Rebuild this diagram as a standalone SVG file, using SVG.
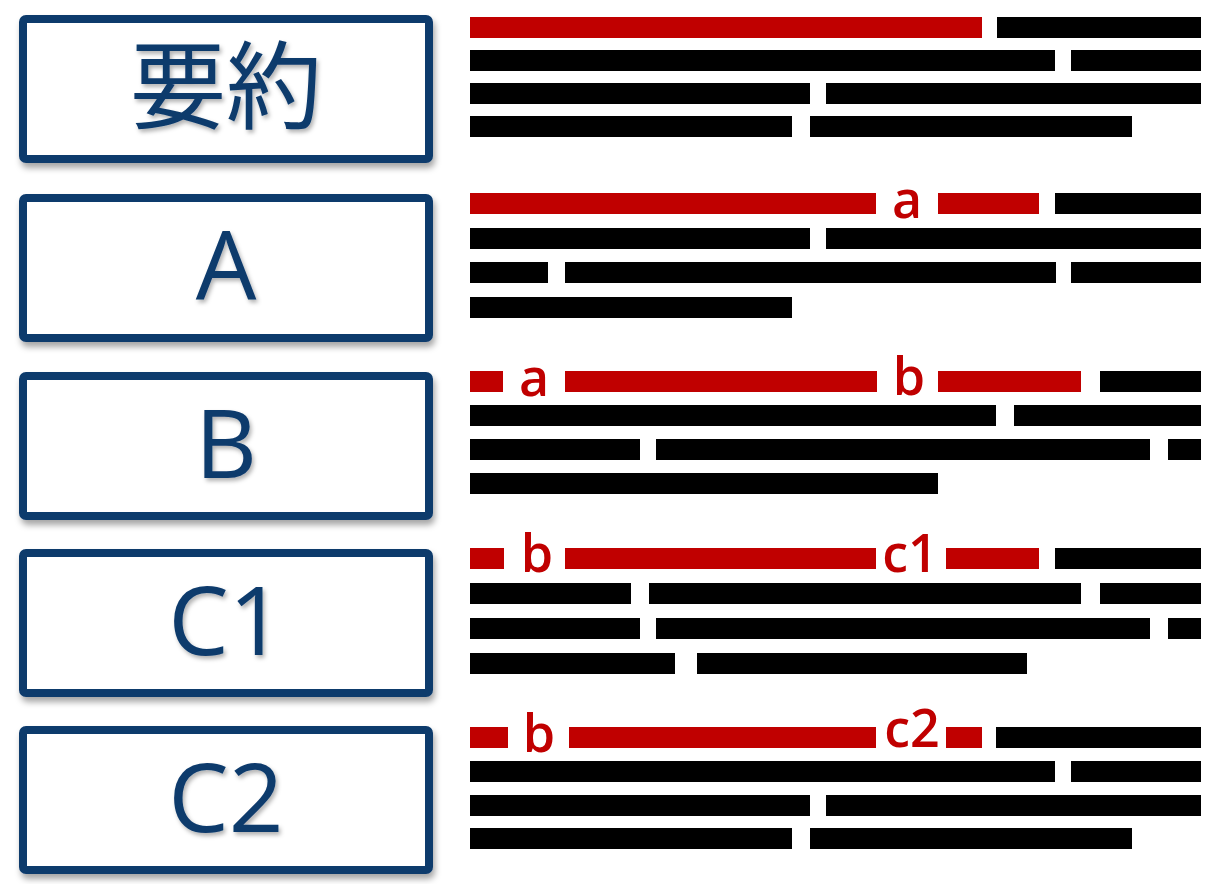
<svg xmlns="http://www.w3.org/2000/svg" width="1209" height="884" viewBox="0 0 1209 884">
<defs>
<filter id="sh" x="-10%" y="-10%" width="125%" height="135%">
<feDropShadow dx="2" dy="5" stdDeviation="3" flood-color="#000" flood-opacity="0.35"/>
</filter>
<filter id="tsh" x="-10%" y="-10%" width="130%" height="130%">
<feDropShadow dx="2" dy="3" stdDeviation="2" flood-color="#000" flood-opacity="0.3"/>
</filter>
</defs>
<style>
.box{fill:#fff;stroke:#0c3a6c;stroke-width:8;filter:url(#sh)}
.lbl{font-family:"Open Sans","Noto Sans CJK JP",sans-serif;font-size:96px;fill:#0c3a6c;text-anchor:middle;filter:url(#tsh)}
.cjk{font-family:"Noto Sans CJK JP","Noto Sans",sans-serif}
.r{fill:#c00000}
.k{fill:#000}
.m{font-family:"Open Sans","Liberation Sans",sans-serif;font-size:52px;font-weight:600;fill:#c00000}
</style>
<rect width="1209" height="884" fill="#fff"/>
<g id="connectors"/>

<g id="node-summary">
<rect class="box" x="23" y="19" width="406" height="140" rx="3"/>
<text class="lbl cjk" x="226" y="121">要約</text>
<g id="text-summary">
<rect class="r" x="470" y="17" width="512" height="21"/>
<rect class="k" x="997" y="17" width="204" height="21"/>
<rect class="k" x="470" y="50" width="585" height="21"/>
<rect class="k" x="1071" y="50" width="130" height="21"/>
<rect class="k" x="470" y="83" width="340" height="21"/>
<rect class="k" x="826" y="83" width="375" height="21"/>
<rect class="k" x="470" y="116" width="322" height="21"/>
<rect class="k" x="810" y="116" width="322" height="21"/>
</g>
</g>

<g id="node-A">
<rect class="box" x="23" y="198" width="406" height="140" rx="3"/>
<text class="lbl" x="226" y="300">A</text>
<g id="text-A">
<rect class="r" x="470" y="193" width="406" height="21"/>
<text class="m" x="907" y="218" text-anchor="middle">a</text>
<rect class="r" x="938" y="193" width="101" height="21"/>
<rect class="k" x="1055" y="193" width="146" height="21"/>
<rect class="k" x="470" y="228" width="340" height="21"/>
<rect class="k" x="826" y="228" width="375" height="21"/>
<rect class="k" x="470" y="262" width="78" height="21"/>
<rect class="k" x="565" y="262" width="491" height="21"/>
<rect class="k" x="1071" y="262" width="130" height="21"/>
<rect class="k" x="470" y="297" width="322" height="21"/>
</g>
</g>

<g id="node-B">
<rect class="box" x="23" y="376" width="406" height="140" rx="3"/>
<text class="lbl" x="226" y="478">B</text>
<g id="text-B">
<rect class="r" x="470" y="371" width="33" height="21"/>
<text class="m" x="534" y="396" text-anchor="middle">a</text>
<rect class="r" x="565" y="371" width="312" height="21"/>
<text class="m" x="909" y="395" text-anchor="middle">b</text>
<rect class="r" x="938" y="371" width="143" height="21"/>
<rect class="k" x="1100" y="371" width="101" height="21"/>
<rect class="k" x="470" y="405" width="526" height="21"/>
<rect class="k" x="1014" y="405" width="187" height="21"/>
<rect class="k" x="470" y="439" width="170" height="21"/>
<rect class="k" x="656" y="439" width="494" height="21"/>
<rect class="k" x="1168" y="439" width="33" height="21"/>
<rect class="k" x="470" y="473" width="468" height="21"/>
</g>
</g>

<g id="node-C1">
<rect class="box" x="23" y="553" width="406" height="140" rx="3"/>
<text class="lbl" x="226" y="655">C1</text>
<g id="text-C1">
<rect class="r" x="470" y="548" width="34" height="21"/>
<text class="m" x="537" y="572" text-anchor="middle">b</text>
<rect class="r" x="565" y="548" width="311" height="21"/>
<text class="m" x="910" y="572" text-anchor="middle">c1</text>
<rect class="r" x="946" y="548" width="93" height="21"/>
<rect class="k" x="1055" y="548" width="146" height="21"/>
<rect class="k" x="470" y="583" width="161" height="21"/>
<rect class="k" x="649" y="583" width="432" height="21"/>
<rect class="k" x="1100" y="583" width="101" height="21"/>
<rect class="k" x="470" y="618" width="170" height="21"/>
<rect class="k" x="656" y="618" width="494" height="21"/>
<rect class="k" x="1168" y="618" width="33" height="21"/>
<rect class="k" x="470" y="653" width="205" height="21"/>
<rect class="k" x="697" y="653" width="330" height="21"/>
</g>
</g>

<g id="node-C2">
<rect class="box" x="23" y="730" width="406" height="140" rx="3"/>
<text class="lbl" x="226" y="832">C2</text>
<g id="text-C2">
<rect class="r" x="470" y="727" width="38" height="21"/>
<text class="m" x="539" y="752" text-anchor="middle">b</text>
<rect class="r" x="569" y="727" width="307" height="21"/>
<text class="m" x="912" y="747" text-anchor="middle">c2</text>
<rect class="r" x="946" y="727" width="36" height="21"/>
<rect class="k" x="996" y="727" width="205" height="21"/>
<rect class="k" x="470" y="761" width="585" height="21"/>
<rect class="k" x="1071" y="761" width="130" height="21"/>
<rect class="k" x="470" y="795" width="340" height="21"/>
<rect class="k" x="826" y="795" width="375" height="21"/>
<rect class="k" x="470" y="828" width="322" height="21"/>
<rect class="k" x="810" y="828" width="322" height="21"/>
</g>
</g>
</svg>
